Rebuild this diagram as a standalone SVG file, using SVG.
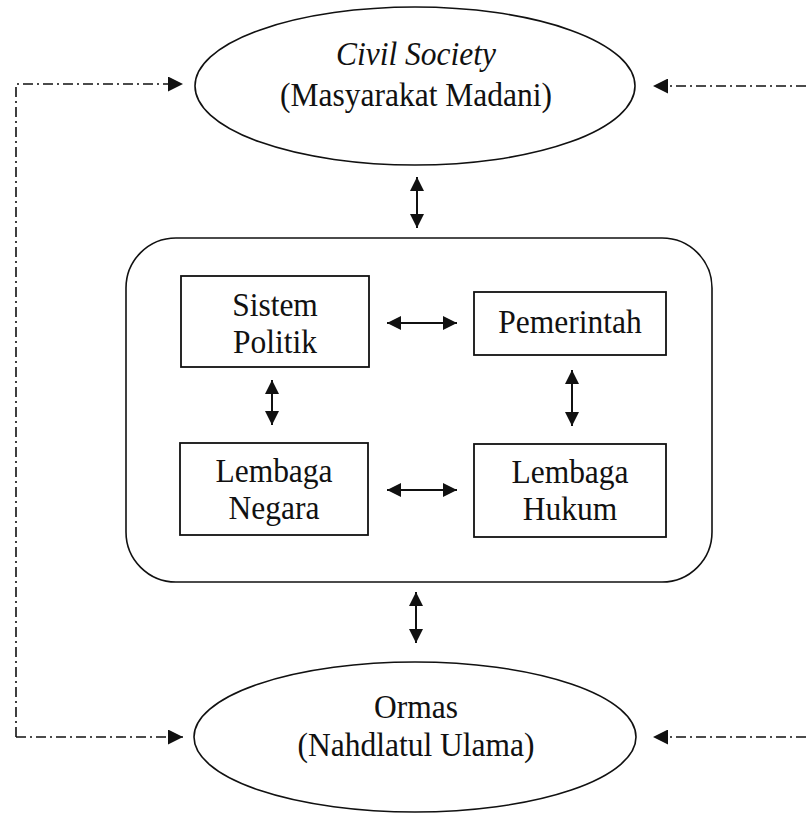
<svg xmlns="http://www.w3.org/2000/svg" width="806" height="813" viewBox="0 0 806 813">
  <style>
    .bg { fill: #ffffff; }
    .shape { fill: #ffffff; stroke: #111111; stroke-width: 1.6; }
    .box { fill: #ffffff; stroke: #111111; stroke-width: 1.8; }
    .lbl { font-family: "Liberation Serif", "Times New Roman", serif; font-size: 31.5px; fill: #111111; text-anchor: middle; }
    .it { font-style: italic; }
    .solid { fill: none; stroke: #111111; stroke-width: 2; marker-start: url(#ah); marker-end: url(#ah); }
    .dash { fill: none; stroke: #111111; stroke-width: 1.6; stroke-dasharray: 10 4 2 4; }
    .dashArrow { marker-end: url(#ad); }
  </style>
  <defs>
    <marker id="ah" viewBox="0 0 10 10" refX="10" refY="5" markerUnits="userSpaceOnUse" markerWidth="14" markerHeight="15" orient="auto-start-reverse">
      <path d="M0,0 L10,5 L0,10 Z" fill="#111111"/>
    </marker>
    <marker id="ad" viewBox="0 0 10 10" refX="10" refY="5" markerUnits="userSpaceOnUse" markerWidth="15" markerHeight="15" orient="auto">
      <path d="M0,0 L10,5 L0,10 Z" fill="#111111"/>
    </marker>
  </defs>
  <rect class="bg" x="0" y="0" width="806" height="813"/>

  <g id="civil-society">
    <ellipse class="shape" cx="415" cy="86" rx="220" ry="79"/>
    <text class="lbl it" transform="translate(416,65) scale(1,1.08)">Civil Society</text>
    <text class="lbl" transform="translate(416,106) scale(1,1.08)">(Masyarakat Madani)</text>
  </g>

  <g id="container">
    <rect class="shape" x="126" y="238" width="586" height="344" rx="50" ry="50"/>
  </g>

  <g id="sistem-politik">
    <rect class="box" x="181" y="276" width="188" height="91"/>
    <text class="lbl" transform="translate(275,316) scale(1,1.08)">Sistem</text>
    <text class="lbl" transform="translate(275,353) scale(1,1.08)">Politik</text>
  </g>

  <g id="pemerintah">
    <rect class="box" x="474" y="292" width="192" height="63"/>
    <text class="lbl" transform="translate(570,333) scale(1,1.08)">Pemerintah</text>
  </g>

  <g id="lembaga-negara">
    <rect class="box" x="180" y="443" width="188" height="92"/>
    <text class="lbl" transform="translate(274,482) scale(1,1.08)">Lembaga</text>
    <text class="lbl" transform="translate(274,519) scale(1,1.08)">Negara</text>
  </g>

  <g id="lembaga-hukum">
    <rect class="box" x="474" y="444" width="192" height="93"/>
    <text class="lbl" transform="translate(570,483) scale(1,1.08)">Lembaga</text>
    <text class="lbl" transform="translate(570,520) scale(1,1.08)">Hukum</text>
  </g>

  <g id="ormas">
    <ellipse class="shape" cx="415" cy="737" rx="221" ry="75"/>
    <text class="lbl" transform="translate(416,718) scale(1,1.08)">Ormas</text>
    <text class="lbl" transform="translate(416,756) scale(1,1.08)">(Nahdlatul Ulama)</text>
  </g>

  <g id="connectors">
    <line class="solid" x1="417" y1="177" x2="417" y2="228"/>
    <line class="solid" x1="387" y1="323" x2="457" y2="323"/>
    <line class="solid" x1="272" y1="380" x2="272" y2="425"/>
    <line class="solid" x1="572" y1="370" x2="572" y2="426"/>
    <line class="solid" x1="387" y1="490" x2="457" y2="490"/>
    <line class="solid" x1="416" y1="592" x2="416" y2="643"/>
    <polyline class="dash dashArrow" points="16,737 16,84 183,84"/>
    <polyline class="dash dashArrow" points="16,737 183,737"/>
    <line class="dash dashArrow" x1="806" y1="86" x2="653" y2="86"/>
    <line class="dash dashArrow" x1="806" y1="737" x2="653" y2="737"/>
  </g>
</svg>
